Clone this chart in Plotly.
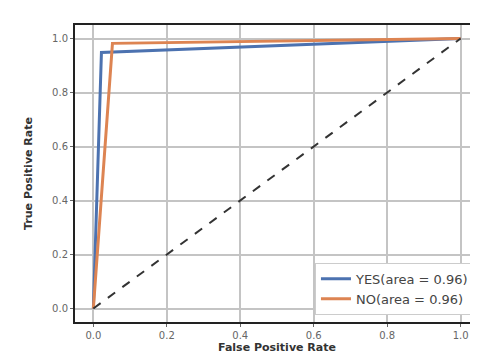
import plotly.graph_objects as go

# ROC data
yes_fpr = [0.0, 0.022, 1.0]
yes_tpr = [0.0, 0.948, 1.0]
no_fpr = [0.0, 0.052, 1.0]
no_tpr = [0.0, 0.982, 1.0]
diag = [0.0, 1.0]
tick_vals = [0.0, 0.2, 0.4, 0.6, 0.8, 1.0]
tick_text = ["0.0", "0.2", "0.4", "0.6", "0.8", "1.0"]
labels = ["YES(area = 0.96)", "NO(area = 0.96)"]

fig = go.Figure()
fig.add_trace(go.Scatter(x=yes_fpr, y=yes_tpr, mode="lines", name=labels[0],
                         line=dict(color="#4C72B0", width=3)))
fig.add_trace(go.Scatter(x=no_fpr, y=no_tpr, mode="lines", name=labels[1],
                         line=dict(color="#DD8452", width=3)))
fig.add_trace(go.Scatter(x=diag, y=diag, mode="lines", showlegend=False,
                         line=dict(color="#333333", width=2, dash="dash")))

axis_common = dict(
    tickvals=tick_vals, ticktext=tick_text,
    showgrid=True, gridcolor="#c4c4c4", gridwidth=1.5,
    zeroline=False, showline=True, linecolor="#222222", linewidth=2,
    mirror=True, ticks="outside", ticklen=3, tickcolor="#666666",
    tickfont=dict(family="DejaVu Sans", size=10, color="#666666"),
)

fig.update_layout(
    width=478, height=359,
    margin=dict(l=67, r=5, t=17, b=45),
    paper_bgcolor="white", plot_bgcolor="white",
    xaxis=dict(range=[-0.05, 1.05], **axis_common,
               title=dict(text="<b>False Positive Rate</b>", standoff=3,
                          font=dict(family="DejaVu Sans", size=11, color="#333333"))),
    yaxis=dict(range=[-0.05, 1.05], **axis_common,
               title=dict(text="<b>True Positive Rate</b>", standoff=17,
                          font=dict(family="DejaVu Sans", size=11, color="#333333"))),
    legend=dict(x=0.99, y=0.024, xanchor="right", yanchor="bottom",
                bgcolor="white", bordercolor="#cccccc", borderwidth=1,
                font=dict(family="DejaVu Sans", size=13, color="#444444"),
                tracegroupgap=0),
    showlegend=True,
)

fig.write_html("out.html")
